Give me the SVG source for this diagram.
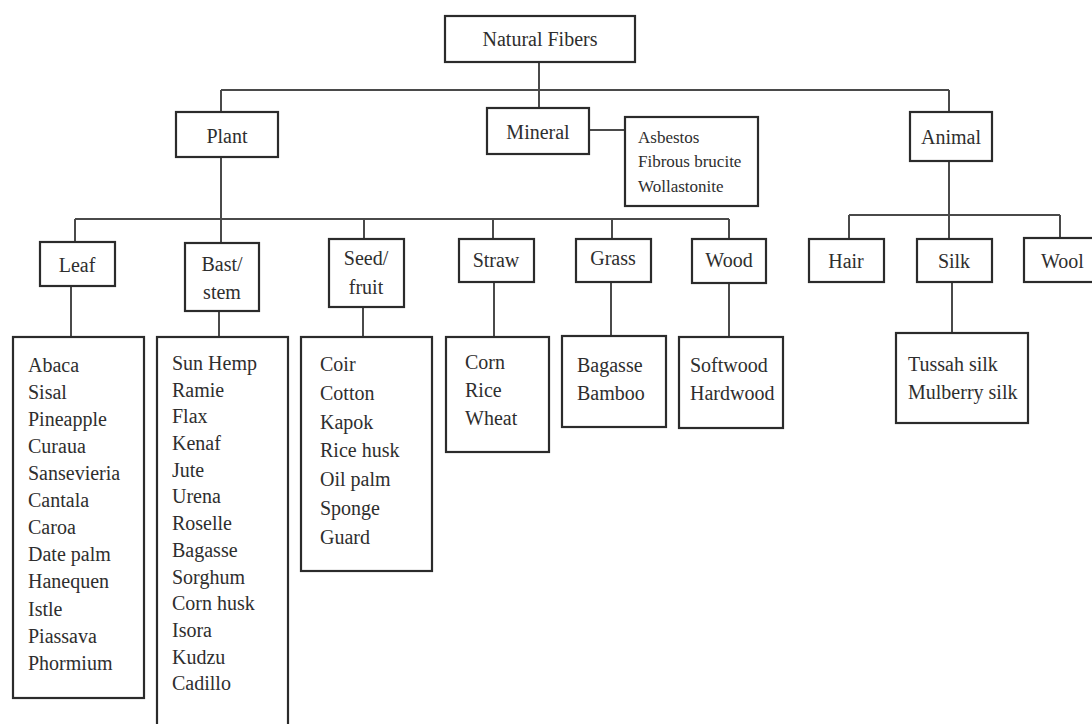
<svg xmlns="http://www.w3.org/2000/svg" width="1092" height="724" viewBox="0 0 1092 724" font-family="'Liberation Serif', 'DejaVu Serif', serif">
<style>
.box{fill:#fff;stroke:#2b2b2b;stroke-width:2.2}
.ln{stroke:#4a4a4a;stroke-width:2;fill:none}
text{font-family:'Liberation Serif', 'DejaVu Serif', serif;fill:#2e2e2e}
.lb{font-size:20px;text-anchor:middle}
.ls{font-size:20px}
.sm{font-size:17px}
</style>
<rect width="1092" height="724" fill="#fff"/>
<g id="connectors">
<path class="ln" d="M539 62V108M221 90H949M221 90V112M949 90V112M589 130H625"/>
<path class="ln" d="M221 157V243M75 219H729M75 219V242M364 219V239M493 219V239M612 219V239M729 219V239"/>
<path class="ln" d="M71 286V337M219 311V337M363 307V337M494 282V337M611 282V337M729 283V337"/>
<path class="ln" d="M949 161V239M849 215H1060M849 215V239M1060 215V238M952 282V333"/>
</g>
<g id="natural-fibers"><rect class="box" x="445" y="16" width="190" height="46"/><text class="lb" x="540" y="46">Natural Fibers</text></g>
<g id="plant"><rect class="box" x="176" y="112" width="102" height="45"/><text class="lb" x="227" y="143">Plant</text></g>
<g id="mineral"><rect class="box" x="487" y="108" width="102" height="46"/><text class="lb" x="538" y="139">Mineral</text></g>
<g id="mineral-list"><rect class="box" x="625" y="117" width="133" height="89"/><text class="sm"><tspan x="638" y="143">Asbestos</tspan><tspan x="638" y="167">Fibrous brucite</tspan><tspan x="638" y="192">Wollastonite</tspan></text></g>
<g id="animal"><rect class="box" x="910" y="112" width="82" height="49"/><text class="lb" x="951" y="144">Animal</text></g>
<g id="leaf"><rect class="box" x="40" y="242" width="75" height="44"/><text class="lb" x="77" y="272">Leaf</text></g>
<g id="bast"><rect class="box" x="185" y="243" width="74" height="68"/><text class="lb"><tspan x="222" y="271">Bast/</tspan><tspan x="222" y="299">stem</tspan></text></g>
<g id="seed"><rect class="box" x="329" y="239" width="75" height="68"/><text class="lb"><tspan x="366" y="265">Seed/</tspan><tspan x="366" y="294">fruit</tspan></text></g>
<g id="straw"><rect class="box" x="459" y="239" width="75" height="43"/><text class="lb" x="496" y="267">Straw</text></g>
<g id="grass"><rect class="box" x="576" y="239" width="75" height="43"/><text class="lb" x="613" y="265">Grass</text></g>
<g id="wood"><rect class="box" x="692" y="239" width="74" height="44"/><text class="lb" x="729" y="267">Wood</text></g>
<g id="hair"><rect class="box" x="809" y="239" width="75" height="43"/><text class="lb" x="846" y="268">Hair</text></g>
<g id="silk"><rect class="box" x="917" y="239" width="75" height="43"/><text class="lb" x="954" y="268">Silk</text></g>
<g id="wool"><rect class="box" x="1024" y="238" width="80" height="44"/><text class="ls" x="1041" y="268">Wool</text></g>
<g id="leaf-list"><rect class="box" x="13" y="337" width="131" height="361"/><text class="ls"><tspan x="28" y="372">Abaca</tspan><tspan x="28" y="399">Sisal</tspan><tspan x="28" y="426">Pineapple</tspan><tspan x="28" y="453">Curaua</tspan><tspan x="28" y="480">Sansevieria</tspan><tspan x="28" y="507">Cantala</tspan><tspan x="28" y="534">Caroa</tspan><tspan x="28" y="561">Date palm</tspan><tspan x="28" y="588">Hanequen</tspan><tspan x="28" y="616">Istle</tspan><tspan x="28" y="643">Piassava</tspan><tspan x="28" y="670">Phormium</tspan></text></g>
<g id="bast-list"><rect class="box" x="157" y="337" width="131" height="400"/><text class="ls"><tspan x="172" y="370">Sun Hemp</tspan><tspan x="172" y="397">Ramie</tspan><tspan x="172" y="423">Flax</tspan><tspan x="172" y="450">Kenaf</tspan><tspan x="172" y="477">Jute</tspan><tspan x="172" y="503">Urena</tspan><tspan x="172" y="530">Roselle</tspan><tspan x="172" y="557">Bagasse</tspan><tspan x="172" y="584">Sorghum</tspan><tspan x="172" y="610">Corn husk</tspan><tspan x="172" y="637">Isora</tspan><tspan x="172" y="664">Kudzu</tspan><tspan x="172" y="690">Cadillo</tspan></text></g>
<g id="seed-list"><rect class="box" x="301" y="337" width="131" height="234"/><text class="ls"><tspan x="320" y="371">Coir</tspan><tspan x="320" y="400">Cotton</tspan><tspan x="320" y="429">Kapok</tspan><tspan x="320" y="457">Rice husk</tspan><tspan x="320" y="486">Oil palm</tspan><tspan x="320" y="515">Sponge</tspan><tspan x="320" y="544">Guard</tspan></text></g>
<g id="straw-list"><rect class="box" x="446" y="337" width="103" height="115"/><text class="ls"><tspan x="465" y="369">Corn</tspan><tspan x="465" y="397">Rice</tspan><tspan x="465" y="425">Wheat</tspan></text></g>
<g id="grass-list"><rect class="box" x="562" y="336" width="104" height="91"/><text class="ls"><tspan x="577" y="372">Bagasse</tspan><tspan x="577" y="400">Bamboo</tspan></text></g>
<g id="wood-list"><rect class="box" x="679" y="337" width="104" height="91"/><text class="ls"><tspan x="690" y="372">Softwood</tspan><tspan x="690" y="400">Hardwood</tspan></text></g>
<g id="silk-list"><rect class="box" x="896" y="333" width="132" height="90"/><text class="ls"><tspan x="908" y="371">Tussah silk</tspan><tspan x="908" y="399">Mulberry silk</tspan></text></g>
</svg>
